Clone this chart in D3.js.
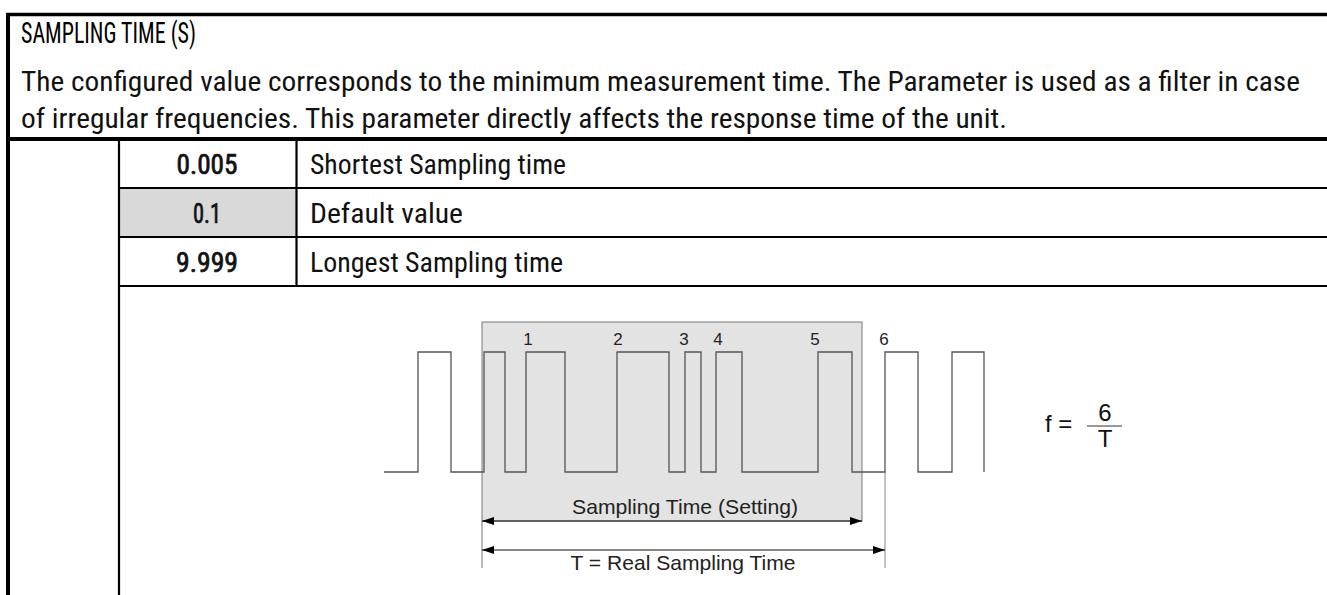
<!DOCTYPE html>
<html><head><meta charset="utf-8">
<script src="https://cdn.jsdelivr.net/npm/d3@7"></script>
<style>
html,body{margin:0;padding:0;background:#fff;overflow:hidden}
.cond{font-family:Roboto,sans-serif;font-stretch:condensed}
.ar{font-family:'Liberation Sans',Arial,sans-serif}
</style></head>
<body>
<svg id="c" width="1327" height="595"></svg>
<script>
// ---- data ----
const title = "SAMPLING TIME (S)";
const descLines = [
  "The configured value corresponds to the minimum measurement time. The Parameter is used as a filter in case",
  "of irregular frequencies. This parameter directly affects the response time of the unit."
];
const rowValues = ["0.005", "0.1", "9.999"];
const rowDescriptions = ["Shortest Sampling time", "Default value", "Longest Sampling time"];
const rowHighlight = [false, true, false];
// waveform: pulse rising / falling edges (time units)
const pulseRise = [34, 100, 142, 233, 301, 332, 434, 501, 568];
const pulseFall = [67, 121, 181, 285, 317, 358, 468, 534, 600];
const edgeLabels = ["1", "2", "3", "4", "5", "6"];
const edgeLabelTimes = [144, 234, 300, 334, 431, 500];
const windowStart = 98, windowEnd = 478, realEnd = 501;
const arrowLabels = ["Sampling Time (Setting)", "T = Real Sampling Time"];
const formula = {lhs: "f =", num: "6", den: "T"};

// ---- drawing ----
const svg = d3.select("#c");
const W = 1327;
const L = (x1,y1,x2,y2,w,c)=>svg.append("line").attr("x1",x1).attr("y1",y1).attr("x2",x2).attr("y2",y2)
  .attr("stroke",c||"#000").attr("stroke-width",w);

// table geometry
const rowY = d3.scaleBand().domain(d3.range(rowValues.length)).range([139,286]);
rowValues.forEach((v,i)=>{
  if (rowHighlight[i]) svg.append("rect").attr("x",120).attr("y",rowY(i)).attr("width",176)
    .attr("height",rowY.bandwidth()).attr("fill","#d9d9d9");
});
L(6,14.5,W,14.5,3.5);
L(8,13,8,595,4);
L(6,139,W,139,4);
rowValues.forEach((v,i)=>{ L(119, rowY(i)+rowY.bandwidth(), W, rowY(i)+rowY.bandwidth(), 2.2); });
L(119,139,119,595,2.2);
L(296.5,139,296.5,286,2.2);

// title & description
svg.append("text").attr("class","cond").attr("x",21).attr("y",43).attr("font-size",30).attr("fill","#000")
  .attr("textLength",175).attr("lengthAdjust","spacingAndGlyphs").text(title);
const descW = [1279, 986];
descLines.forEach((t,i)=>svg.append("text").attr("class","cond").attr("x",21).attr("y",91+i*37)
  .attr("font-size",28).attr("fill","#111").attr("textLength",descW[i]).attr("lengthAdjust","spacingAndGlyphs").text(t));

// table rows
const valW = [61, 28, 62];
const dW = [256, 153, 253];
rowValues.forEach((v,i)=>{
  const cy = rowY(i)+rowY.bandwidth()/2 + 10;
  svg.append("text").attr("class","cond").attr("x",207).attr("y",cy).attr("text-anchor","middle")
    .attr("font-size",28).attr("fill","#111").attr("stroke","#111").attr("stroke-width",0.7)
    .attr("textLength",valW[i]).attr("lengthAdjust","spacingAndGlyphs").text(v);
  svg.append("text").attr("class","cond").attr("x",310).attr("y",cy).attr("font-size",28).attr("fill","#111")
    .attr("textLength",dW[i]).attr("lengthAdjust","spacingAndGlyphs").text(rowDescriptions[i]);
});

// diagram
const x = d3.scaleLinear().domain([0,600]).range([384,984]);
const y = d3.scaleLinear().domain([0,1]).range([472,352]);
svg.append("rect").attr("x",x(windowStart)).attr("y",322).attr("width",x(windowEnd)-x(windowStart)).attr("height",199)
  .attr("fill","#e3e3e3").attr("stroke","#8c8c8c").attr("stroke-width",1.2);
L(x(windowStart),521,x(windowStart),568,1.2,"#8c8c8c");
L(x(realEnd),472,x(realEnd),568,1.2,"#9a9a9a");

const pts = [{t:0,v:0}];
pulseRise.forEach((r,i)=>{ pts.push({t:r,v:0},{t:r,v:1},{t:pulseFall[i],v:1},{t:pulseFall[i],v:0}); });
svg.append("path").attr("d", d3.line().x(d=>x(d.t)).y(d=>y(d.v))(pts))
  .attr("fill","none").attr("stroke","#555").attr("stroke-width",1.3);

edgeLabels.forEach((s,i)=>svg.append("text").attr("class","ar").attr("x",x(edgeLabelTimes[i])).attr("y",345)
  .attr("text-anchor","middle").attr("font-size",17).attr("fill","#222").text(s));

// arrows
const defs = svg.append("defs");
defs.append("marker").attr("id","ah").attr("viewBox","0 0 12 8").attr("refX",12).attr("refY",4)
  .attr("markerWidth",12).attr("markerHeight",8).attr("markerUnits","userSpaceOnUse").attr("orient","auto-start-reverse")
  .append("path").attr("d","M0,0L12,4L0,8Z").attr("fill","#000");
const arrows = [[windowStart, windowEnd, 521], [windowStart, realEnd, 550]];
arrows.forEach(a=>svg.append("line").attr("x1",x(a[0])).attr("x2",x(a[1])).attr("y1",a[2]).attr("y2",a[2])
  .attr("stroke","#111").attr("stroke-width",1.1).attr("marker-start","url(#ah)").attr("marker-end","url(#ah)"));
svg.append("text").attr("class","ar").attr("x",685).attr("y",514).attr("text-anchor","middle").attr("font-size",21)
  .attr("fill","#222").attr("textLength",226).attr("lengthAdjust","spacingAndGlyphs").text(arrowLabels[0]);
svg.append("text").attr("class","ar").attr("x",683).attr("y",570).attr("text-anchor","middle").attr("font-size",21)
  .attr("fill","#222").attr("textLength",225).attr("lengthAdjust","spacingAndGlyphs").text(arrowLabels[1]);

// formula
svg.append("text").attr("class","ar").attr("x",1045).attr("y",432).attr("font-size",24).attr("fill","#111").text(formula.lhs);
svg.append("text").attr("class","ar").attr("x",1105).attr("y",421).attr("text-anchor","middle").attr("font-size",24).attr("fill","#111").text(formula.num);
L(1087,426,1122,426,1.2,"#333");
svg.append("text").attr("class","ar").attr("x",1105).attr("y",447).attr("text-anchor","middle").attr("font-size",24).attr("fill","#111").text(formula.den);
</script>
</body></html>
